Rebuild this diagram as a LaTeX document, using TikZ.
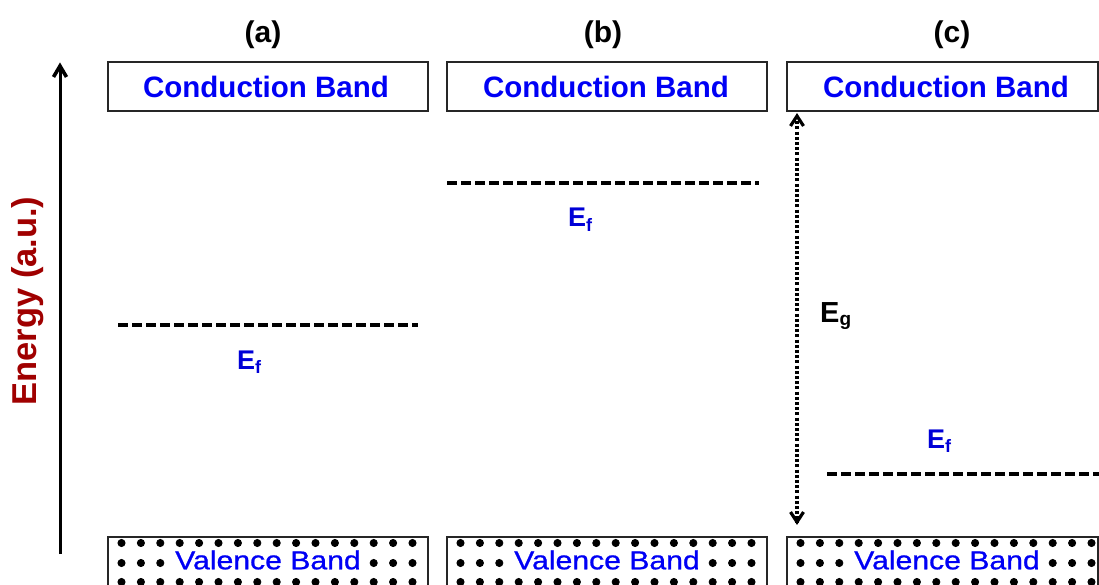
\documentclass[tikz,border=0pt]{standalone}
\usepackage{fontspec}
\setmainfont{Liberation Sans}
\definecolor{bandblue}{RGB}{0,0,245}
\definecolor{efblue}{RGB}{0,0,215}
\definecolor{axisred}{RGB}{160,0,0}
\tikzset{
  bandbox/.style={draw=black!85,line width=1.3pt},
  cbtext/.style={text=bandblue,font=\fontsize{29.5}{29.5}\selectfont\bfseries,inner sep=0pt},
  vbtext/.style={text=bandblue,inner sep=0pt},
  head/.style={font=\fontsize{30}{30}\selectfont\bfseries,inner sep=0pt},
  fermi/.style={line width=3.6pt,dash pattern=on 10pt off 4pt},
  eflabel/.style={text=efblue,font=\fontsize{27}{27}\selectfont\bfseries,inner sep=0pt,anchor=base west},
  eglabel/.style={text=black,font=\fontsize{29}{29}\selectfont\bfseries,inner sep=0pt,anchor=base west},
  elec/.style={fill=black,draw=black,line width=0.8pt},
  chevron/.style={line width=3.2pt,line join=miter,line cap=butt},
}
\newcommand{\vbandtext}{\scalebox{1.16}[1]{\fontsize{26}{26}\selectfont\addfontfeature{FakeBold=0.8}Valence Band}}
\begin{document}
\begin{tikzpicture}[x=1pt,y=-1pt]
\useasboundingbox (0,0) rectangle (1099,585);
\fill[white] (0,0) rectangle (1099,585);
% headers
\node[head] (ha) at (263,35) {(a)};
\node[head] (hb) at (603,35) {(b)};
\node[head] (hc) at (952,35) {(c)};
% bands
\foreach \n/\l/\r in {a/108/428, b/447/767, c/787/1098}{
  \draw[bandbox] (\l,62) rectangle (\r,111);
  \draw[bandbox] (\l,537) rectangle (\r,600);
  \foreach \k in {0,...,15}{
    \fill[elec] ({\l+13.5+19.4*\k},543) circle (3.6);
    \fill[elec] ({\l+13.5+19.4*\k},582) circle (3.6);
  }
  \foreach \k in {0,1,2,13,14,15}{
    \fill[elec] ({\l+13.5+19.4*\k},563) circle (3.6);
  }
}
\node[cbtext] (cba) at (266,87) {Conduction Band};
\node[cbtext] (cbb) at (606,87) {Conduction Band};
\node[cbtext] (cbc) at (946,87) {Conduction Band};
\node[vbtext] (vba) at (268,560) {\vbandtext};
\node[vbtext] (vbb) at (607,560) {\vbandtext};
\node[vbtext] (vbc) at (947,560) {\vbandtext};
% Fermi levels
\coordinate (fa1) at (118,325); \coordinate (fa2) at (418,325);
\coordinate (fb1) at (447,183); \coordinate (fb2) at (759,183);
\coordinate (fc1) at (827,474); \coordinate (fc2) at (1099,474);
\draw[fermi] (fa1) -- (fa2);
\draw[fermi] (fb1) -- (fb2);
\draw[fermi] (fc1) -- (fc2);
\node[eflabel] (efa) at (237,369) {E\textsubscript{\fontsize{18}{18}\selectfont f}};
\node[eflabel] (efb) at (568,227) {E\textsubscript{\fontsize{18}{18}\selectfont f}};
\node[eflabel] (efc) at (927,448) {E\textsubscript{\fontsize{18}{18}\selectfont f}};
% band gap arrow
\coordinate (g1) at (797,116);
\coordinate (g2) at (797,522);
\draw[line width=3.2pt,dash pattern=on 3pt off 2.2pt] (g1) -- (g2);
\draw[chevron] ([shift={(-6.5,10)}]g1) -- (g1) -- ++(6.5,10);
\draw[chevron] ([shift={(-6.5,-10)}]g2) -- (g2) -- ++(6.5,-10);
\node[eglabel] (eg) at (820,322) {E\textsubscript{\fontsize{19}{19}\selectfont g}};
% energy axis
\coordinate (ax1) at (60,554);
\coordinate (ax2) at (60,66);
\draw[line width=3pt] (ax1) -- (ax2);
\draw[line width=3.6pt,line join=miter] ([shift={(-6.5,11)}]ax2) -- (ax2) -- ++(6.5,11);
\node[rotate=90,text=axisred,font=\fontsize{34.5}{34.5}\selectfont\bfseries,inner sep=0pt] (elab) at (28,301) {Energy (a.u.)};
\end{tikzpicture}
\end{document}
